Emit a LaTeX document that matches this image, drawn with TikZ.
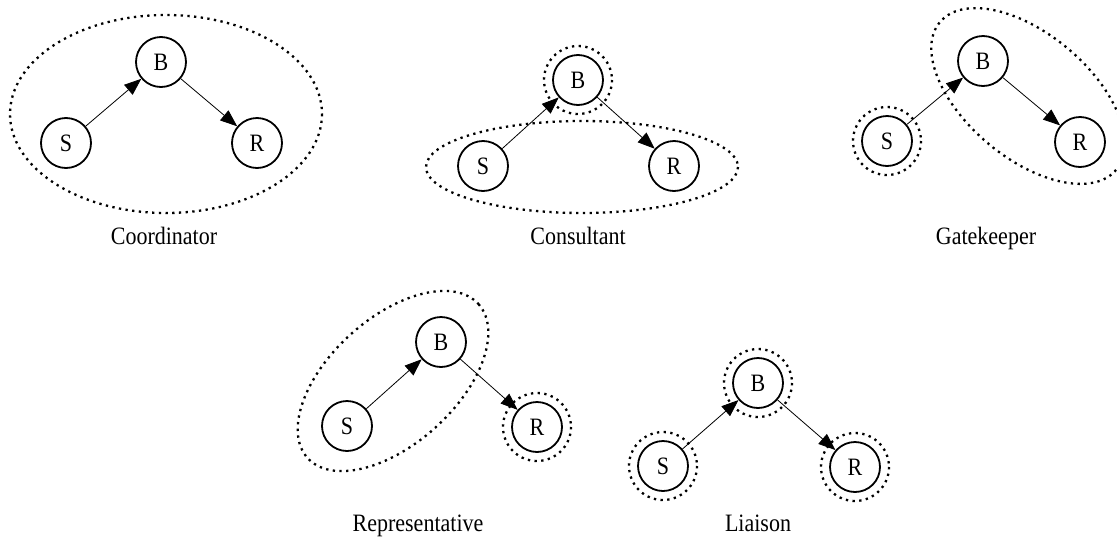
\documentclass[tikz,border=0pt]{standalone}
\usepackage{fontspec}
\setmainfont{Liberation Serif}
\newfontfamily\narrowfont[FakeStretch=0.88]{Liberation Serif}
\usetikzlibrary{arrows.meta}
\begin{document}
\begin{tikzpicture}[x=1pt, y=-1pt,
  actor/.style={draw, circle, line width=1.8pt, minimum size=50pt, inner sep=0pt, font=\narrowfont\fontsize{25}{28}\selectfont},
  flow/.style={line width=0.8pt, -{Triangle[length=17pt, width=13pt]}},
  group/.style={line width=2.3pt, dash pattern=on 2.3pt off 4.4pt},
  role/.style={anchor=base, inner sep=0pt, font=\narrowfont\fontsize{25}{28}\selectfont}]
\useasboundingbox (0,0) rectangle (1117,536);
% Coordinator
\node[actor] (coS) at (66,143) {S};
\node[actor] (coB) at (161,62) {B};
\node[actor] (coR) at (257,143) {R};
\draw[group] (166,114) ellipse [x radius=156, y radius=99];
\node[role] (coL) at (164,244) {Coordinator};
% Consultant
\node[actor] (csS) at (483,166) {S};
\node[actor] (csB) at (578,80) {B};
\node[actor] (csR) at (674,166) {R};
\draw[group] (csB) circle [radius=34];
\draw[group] (582,167) ellipse [x radius=156, y radius=46];
\node[role] (csL) at (578,244) {Consultant};
% Gatekeeper
\node[actor] (gkS) at (887,141) {S};
\node[actor] (gkB) at (983,61) {B};
\node[actor] (gkR) at (1080,142) {R};
\draw[group] (gkS) circle [radius=34];
\draw[group, rotate around={-40:(1028,96)}] (1028,96) ellipse [x radius=115, y radius=62];
\node[role] (gkL) at (986,244) {Gatekeeper};
% Representative
\node[actor] (rpS) at (347,426) {S};
\node[actor] (rpB) at (441,342) {B};
\node[actor] (rpR) at (537,427) {R};
\draw[group] (rpR) circle [radius=34];
\draw[group, rotate around={42:(393,381)}] (393,381) ellipse [x radius=115, y radius=63];
\node[role] (rpL) at (418,531) {Representative};
% Liaison
\node[actor] (liS) at (663,466) {S};
\node[actor] (liB) at (758,383) {B};
\node[actor] (liR) at (855,467) {R};
\foreach \n in {liS, liB, liR}
  \draw[group] (\n) circle [radius=34];
\node[role] (liL) at (758,531) {Liaison};
% arrows S -> B -> R
\foreach \n in {co, cs, gk, rp, li} {
  \draw[flow] (\n S) -- (\n B);
  \draw[flow] (\n B) -- (\n R);
}
\end{tikzpicture}
\end{document}
